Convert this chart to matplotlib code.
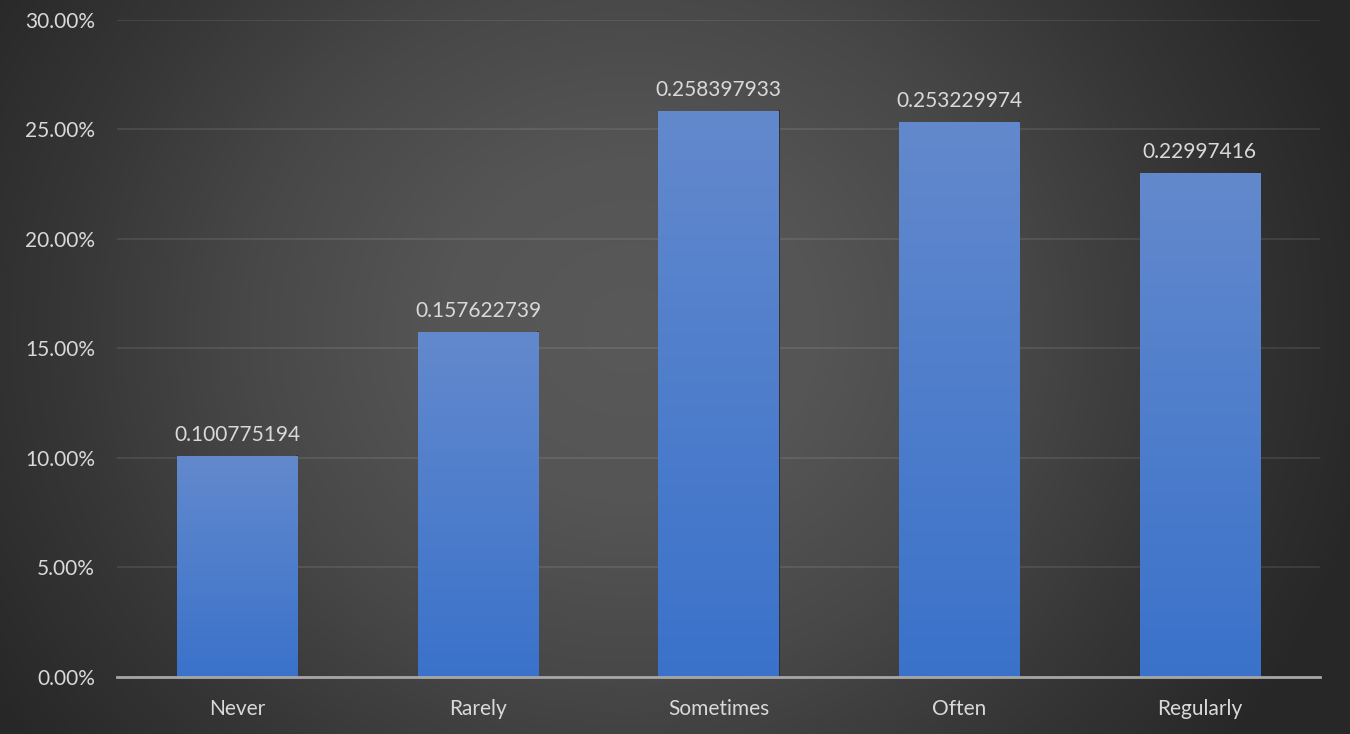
#!/usr/bin/env python3
"""
Bar chart of response frequency shares on a dark radial-gradient backdrop.
"""
import numpy as np
import matplotlib
matplotlib.use('Agg')
import matplotlib.pyplot as plt
from matplotlib.colors import LinearSegmentedColormap
from matplotlib.ticker import PercentFormatter

# Data
categories = ['Never', 'Rarely', 'Sometimes', 'Often', 'Regularly']
shares = [0.100775194, 0.157622739, 0.258397933, 0.253229974, 0.22997416]
value_labels = ['0.100775194', '0.157622739', '0.258397933', '0.253229974', '0.22997416']
y_ticks = [0.0, 0.05, 0.10, 0.15, 0.20, 0.25, 0.30]

TEXT = '#d9d9d9'
plt.rcParams['font.family'] = ['Lato', 'DejaVu Sans']


def main():
    fig = plt.figure(figsize=(13.5, 7.34), dpi=100)

    # radial gradient background across the whole figure
    bg = fig.add_axes([0, 0, 1, 1], zorder=-10)
    h, w = 734, 1350
    yy, xx = np.mgrid[0:h, 0:w]
    cx, cy = 630, 330
    r = np.hypot(xx - cx, (yy - cy) * 1.1) / 760.0
    r = np.clip(r, 0, 1)
    bg_cmap = LinearSegmentedColormap.from_list(
        'bg', [(0.0, '#595959'), (0.25, '#555555'), (0.5, '#484848'),
               (0.75, '#363636'), (1.0, '#272727')])
    bg.imshow(r, cmap=bg_cmap, aspect='auto', extent=[0, 1, 0, 1], origin='upper', vmin=0, vmax=1)
    bg.set_axis_off()

    ax = fig.add_axes([0.0867, 0.0777, 0.8911, 0.8951])
    ax.patch.set_alpha(0)

    x = np.arange(len(categories))
    bars = ax.bar(x, shares, width=0.5, color='#5a82cc', zorder=3, linewidth=0)

    # vertical blue gradient inside each bar
    bar_cmap = LinearSegmentedColormap.from_list('bar', ['#3a72ca', '#6389cd'])
    grad = np.linspace(0, 1, 256).reshape(-1, 1)
    for b in bars:
        x0, y0 = b.get_x(), b.get_y()
        bw, bh = b.get_width(), b.get_height()
        im = ax.imshow(grad, cmap=bar_cmap, aspect='auto', origin='lower',
                       extent=[x0, x0 + bw, y0, y0 + bh], zorder=4)
        im.set_clip_path(b)
        # slight shadow on the right edge
        ax.plot([x0 + bw, x0 + bw], [y0, y0 + bh], color='#2b2b2b', lw=1.2, zorder=3.5)

    for xi, v, lab in zip(x, shares, value_labels):
        ax.annotate(lab, (xi, v), xytext=(0, 8), textcoords='offset points',
                    ha='center', va='bottom', color=TEXT, fontsize=15)

    ax.set_xlim(-0.5, len(categories) - 0.5)
    ax.set_ylim(0, 0.30)
    ax.set_yticks(y_ticks)
    ax.yaxis.set_major_formatter(PercentFormatter(1.0, decimals=2))
    ax.set_xticks(x)
    ax.set_xticklabels(categories)
    ax.tick_params(axis='both', length=0, colors=TEXT, labelsize=15)
    ax.tick_params(axis='y', pad=16)
    ax.tick_params(axis='x', pad=16)

    ax.grid(True, axis='y', color='white', alpha=0.1, linewidth=1.2, zorder=0)
    ax.set_axisbelow(True)
    for side in ('top', 'right', 'left'):
        ax.spines[side].set_visible(False)
    ax.spines['bottom'].set_color('#a6a6a6')
    ax.spines['bottom'].set_linewidth(2)
    ax.spines['bottom'].set_zorder(5)

    fig.savefig('out.png', dpi=100)


if __name__ == '__main__':
    main()
